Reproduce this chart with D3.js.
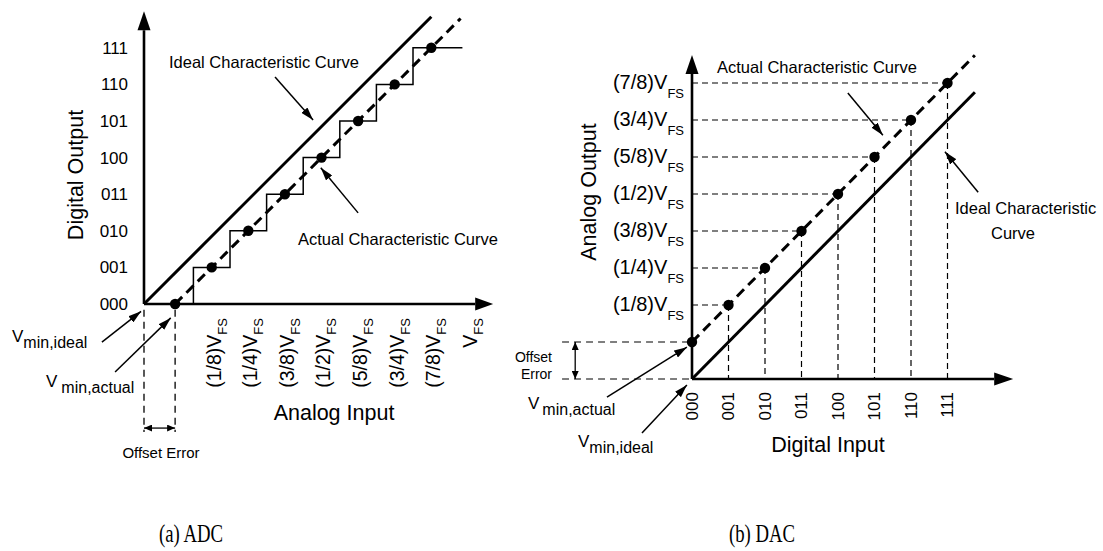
<!DOCTYPE html>
<html><head><meta charset="utf-8">
<script src="https://cdn.jsdelivr.net/npm/d3@7/dist/d3.min.js"></script>
<style>
html,body{margin:0;padding:0;background:#fff;}
svg{display:block;font-family:"Liberation Sans",Arial,Helvetica,sans-serif;}
</style></head><body>
<svg id="c" width="1103" height="551"></svg>
<script>
// ---------- data ----------
const codeLabels = ["000","001","010","011","100","101","110","111"];
const fsFractions = ["(1/8)","(1/4)","(3/8)","(1/2)","(5/8)","(3/4)","(7/8)",""];
// ADC (units: LSB)
const adcCodes = [0,1,2,3,4,5,6,7];
const adcActualInput = [0.85,1.85,2.85,3.85,4.85,5.85,6.85,7.85];
const adcStepEdges = [1.35,2.35,3.35,4.35,5.35,6.35,7.35];
const adcStairEnd = 8.7;
const adcLabelInput = [1.85,2.85,3.85,4.85,5.85,6.85,7.85,8.85];
const adcIdealLine = [[0,0],[7.85,7.85]];
const adcActualLine = [[0.85,0],[8.65,7.8]];
// DAC (units: LSB)
const dacCodes = [0,1,2,3,4,5,6,7];
const dacActualOutput = [1,2,3,4,5,6,7,8];
const dacLabelOutput = [2,3,4,5,6,7,8];
const dacIdealLine = [[0,0],[7.75,7.75]];
const dacActualLine = [[0,1],[7.75,8.75]];

// ---------- scales ----------
const ax = d3.scaleLinear().domain([0,8]).range([144,144+8*36.6]);
const ay = d3.scaleLinear().domain([0,8]).range([304,304-8*36.6]);
const dx = d3.scaleLinear().domain([0,8]).range([692,692+8*36.5]);
const dy = d3.scaleLinear().domain([0,8]).range([379,379-8*37]);

const svg = d3.select("#c");
const defs = svg.append("defs");
function marker(id, len, wid){
  defs.append("marker").attr("id",id).attr("markerUnits","userSpaceOnUse")
    .attr("markerWidth",len).attr("markerHeight",wid)
    .attr("refX",len).attr("refY",wid/2).attr("orient","auto-start-reverse")
    .append("path").attr("d",`M0,0L${len},${wid/2}L0,${wid}Z`).attr("fill","#000");
}
marker("ah",13,8);
marker("sm",8,7);

const line = (sx,sy)=>d3.line().x(d=>sx(d[0])).y(d=>sy(d[1]));
const FONT = 16.5;

function axisArrow(p1, p2, len, hw){
  const ang = Math.atan2(p2[1]-p1[1], p2[0]-p1[0]);
  const bx = p2[0]-len*Math.cos(ang), by = p2[1]-len*Math.sin(ang);
  const nx = -Math.sin(ang)*hw, ny = Math.cos(ang)*hw;
  svg.append("line").attr("x1",p1[0]).attr("y1",p1[1]).attr("x2",bx).attr("y2",by)
    .attr("stroke","#000").attr("stroke-width",2.6);
  svg.append("path").attr("d",`M${p2[0]},${p2[1]}L${bx+nx},${by+ny}L${bx-nx},${by-ny}Z`).attr("fill","#000");
}
function arrow(sx,sy,a,b,m="ah",w=1.5){
  svg.append("line").attr("x1",sx(a[0])).attr("y1",sy(a[1])).attr("x2",sx(b[0])).attr("y2",sy(b[1]))
    .attr("stroke","#000").attr("stroke-width",w).attr("marker-end",`url(#${m})`);
}
function vSub(x,y,main,sub,size,subSize,shift,gap){
  const t = svg.append("text").attr("x",x).attr("y",y).attr("font-size",size);
  t.append("tspan").text(main);
  t.append("tspan").attr("font-size",subSize).attr("dy",shift).attr("dx",gap||0).text(sub);
  return t;
}

// ================= ADC =================
axisArrow([ax(0),ay(0)],[ax(0),ay(8.0)],19,6.5);
axisArrow([ax(0),ay(0)],[ax(9.54),ay(0)],18,6.5);

const gy = svg.append("g").attr("transform",`translate(${ax(0)},0)`)
  .call(d3.axisLeft(ay).tickValues(adcCodes).tickFormat(i=>codeLabels[i]).tickSize(0).tickPadding(16));
gy.select(".domain").remove();
gy.selectAll("text").attr("font-size",17).attr("font-family","Liberation Sans, Arial, sans-serif").attr("fill","#000");

svg.append("path").attr("d",line(ax,ay)(adcIdealLine)).attr("stroke","#000").attr("stroke-width",3).attr("fill","none");
const stair = [[adcStepEdges[0],0]];
adcStepEdges.forEach((e,i)=>{ stair.push([e,i+1]); stair.push([i<adcStepEdges.length-1?adcStepEdges[i+1]:adcStairEnd,i+1]); });
svg.append("path").attr("d",line(ax,ay)(stair)).attr("stroke","#000").attr("stroke-width",1.5).attr("fill","none");
svg.append("path").attr("d",line(ax,ay)(adcActualLine)).attr("stroke","#000").attr("stroke-width",3)
  .attr("stroke-dasharray","10,6").attr("fill","none");
svg.selectAll(".adot").data(adcCodes).enter().append("circle")
  .attr("cx",i=>ax(adcActualInput[i])).attr("cy",i=>ay(i)).attr("r",5.2).attr("fill","#000");

adcLabelInput.forEach((v,i)=>{
  const g = svg.append("g").attr("transform",`translate(${ax(v)+2},318) rotate(-90)`);
  const t = g.append("text").attr("text-anchor","end").attr("dy","0.35em").attr("font-size",19.5);
  t.append("tspan").text(fsFractions[i]+"V");
  t.append("tspan").attr("font-size",13).attr("dy",6).text("FS");
});
svg.append("text").attr("x",334).attr("y",420).attr("text-anchor","middle").attr("font-size",21.5).text("Analog Input");
svg.append("text").attr("transform",`translate(76,175) rotate(-90)`).attr("text-anchor","middle")
  .attr("dominant-baseline","central").attr("font-size",21.5).text("Digital Output");

[0, adcActualInput[0]].forEach(v=>{
  svg.append("line").attr("x1",ax(v)).attr("x2",ax(v)).attr("y1",ay(-0.16)).attr("y2",ay(-3.5))
    .attr("stroke","#000").attr("stroke-width",1.3).attr("stroke-dasharray","7,5");
});
svg.append("line").attr("x1",ax(0)).attr("x2",ax(adcActualInput[0])).attr("y1",ay(-3.39)).attr("y2",ay(-3.39))
  .attr("stroke","#000").attr("stroke-width",1.3).attr("marker-end","url(#sm)").attr("marker-start","url(#sm)");
svg.append("text").attr("x",161).attr("y",458).attr("text-anchor","middle").attr("font-size",15).text("Offset Error");

svg.append("text").attr("x",169).attr("y",68).attr("font-size",FONT).text("Ideal Characteristic Curve");
arrow(ax,ay,[3.58,6.2],[4.62,5.03]);
svg.append("text").attr("x",298).attr("y",245).attr("font-size",FONT).text("Actual Characteristic Curve");
arrow(ax,ay,[5.85,2.49],[4.83,3.72]);
vSub(12,342,"V","min,ideal",17,16,6);
arrow(ax,ay,[-1.15,-1.04],[-0.08,-0.2]);
vSub(46,387,"V","min,actual",17,16,6,4);
arrow(ax,ay,[-0.79,-1.86],[0.73,-0.38]);

// ================= DAC =================
axisArrow([dx(0),dy(0)],[dx(0),dy(8.76)],19,6.5);
axisArrow([dx(0),dy(0)],[dx(8.8),dy(0)],19,6.5);

dacCodes.slice(1).forEach(i=>{
  svg.append("line").attr("x1",dx(0)).attr("x2",dx(i)).attr("y1",dy(dacActualOutput[i])).attr("y2",dy(dacActualOutput[i]))
    .attr("stroke","#000").attr("stroke-width",1.2).attr("stroke-dasharray","6,4");
  svg.append("line").attr("x1",dx(i)).attr("x2",dx(i)).attr("y1",dy(dacActualOutput[i])).attr("y2",dy(0))
    .attr("stroke","#000").attr("stroke-width",1.2).attr("stroke-dasharray","6,4");
});
[0, dacActualOutput[0]].forEach(v=>{
  svg.append("line").attr("x1",dx(-3.56)).attr("x2",dx(0)).attr("y1",dy(v)).attr("y2",dy(v))
    .attr("stroke","#000").attr("stroke-width",1.2).attr("stroke-dasharray","7,5");
});
svg.append("line").attr("x1",dx(-3.2)).attr("x2",dx(-3.2)).attr("y1",dy(0)).attr("y2",dy(dacActualOutput[0]))
  .attr("stroke","#000").attr("stroke-width",1.3).attr("marker-end","url(#sm)").attr("marker-start","url(#sm)");
svg.append("text").attr("x",552).attr("y",362).attr("text-anchor","end").attr("font-size",14).text("Offset");
svg.append("text").attr("x",552).attr("y",379).attr("text-anchor","end").attr("font-size",14).text("Error");

svg.append("path").attr("d",line(dx,dy)(dacIdealLine)).attr("stroke","#000").attr("stroke-width",3).attr("fill","none");
svg.append("path").attr("d",line(dx,dy)(dacActualLine)).attr("stroke","#000").attr("stroke-width",3)
  .attr("stroke-dasharray","10,6").attr("fill","none");
svg.selectAll(".ddot").data(dacCodes).enter().append("circle")
  .attr("cx",i=>dx(i)).attr("cy",i=>dy(dacActualOutput[i])).attr("r",5.2).attr("fill","#000");

dacLabelOutput.forEach((v,i)=>{
  const t = svg.append("text").attr("x",684).attr("y",dy(v)+6).attr("text-anchor","end").attr("font-size",20);
  t.append("tspan").text(fsFractions[i]+"V");
  t.append("tspan").attr("font-size",13).attr("dy",9).text("FS");
});
dacCodes.forEach(i=>{
  svg.append("text").attr("transform",`translate(${dx(i)},392) rotate(-90)`).attr("text-anchor","end")
    .attr("dy","0.35em").attr("font-size",17).text(codeLabels[i]);
});
svg.append("text").attr("x",828).attr("y",452).attr("text-anchor","middle").attr("font-size",21.5).text("Digital Input");
svg.append("text").attr("transform",`translate(589,192) rotate(-90)`).attr("text-anchor","middle")
  .attr("dominant-baseline","central").attr("font-size",21.5).text("Analog Output");

svg.append("text").attr("x",717).attr("y",73).attr("font-size",FONT).text("Actual Characteristic Curve");
arrow(dx,dy,[4.27,7.73],[5.23,6.59]);
svg.append("text").attr("x",955).attr("y",214).attr("font-size",FONT).text("Ideal Characteristic");
svg.append("text").attr("x",1013).attr("y",239).attr("text-anchor","middle").attr("font-size",FONT).text("Curve");
arrow(dx,dy,[7.84,5.05],[6.93,6.14]);
vSub(528,409,"V","min,actual",17,16,6,3);
arrow(dx,dy,[-2.33,-0.49],[-0.14,0.86]);
vSub(578,447,"V","min,ideal",17,16,6);
arrow(dx,dy,[-1.37,-1.46],[-0.14,-0.16]);

// captions
svg.append("text").attr("x",159).attr("y",542).attr("font-family","Liberation Serif, Times New Roman, serif")
  .attr("font-size",26).attr("textLength",64).attr("lengthAdjust","spacingAndGlyphs").text("(a) ADC");
svg.append("text").attr("x",729).attr("y",542).attr("font-family","Liberation Serif, Times New Roman, serif")
  .attr("font-size",26).attr("textLength",66).attr("lengthAdjust","spacingAndGlyphs").text("(b) DAC");
</script>
</body></html>
